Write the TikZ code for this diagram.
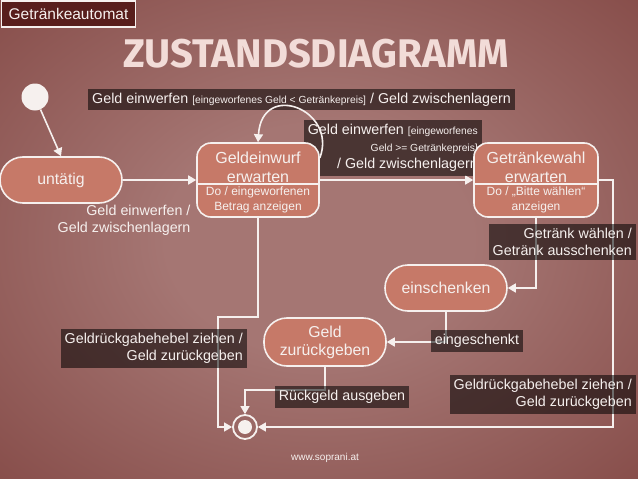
\documentclass[tikz,border=0pt]{standalone}
\usepackage{fontspec}
\setmainfont{Liberation Sans}
\newfontfamily\titlefont{Fira Sans}
\usepackage{tikz}
\usetikzlibrary{arrows.meta,calc,positioning}
\definecolor{bgin}{RGB}{165,118,115}
\definecolor{bgout}{RGB}{90,16,12}
\definecolor{statefill}{RGB}{198,121,104}
\definecolor{fg}{RGB}{246,240,238}
\definecolor{titlecol}{RGB}{242,220,216}
\definecolor{tagfill}{RGB}{88,30,28}
\pgfdeclareradialshading{backdrop}{\pgfpoint{0bp}{0bp}}{color(0bp)=(bgin); color(12bp)=(bgin); color(72bp)=(bgout)}
\pgfdeclarelayer{bg}
\pgfdeclarelayer{lines}
\pgfdeclarelayer{labels}
\pgfsetlayers{bg,lines,labels,main}
\newcommand{\guard}[1]{{\fontsize{10.3}{12}\selectfont #1}}
\tikzset{
  every node/.style={text=fg},
  state/.style={draw=fg,line width=1.6pt,fill=statefill,align=center,
    font=\fontsize{15.8}{18}\selectfont},
  round state/.style={state,rounded corners=23pt,minimum width=122pt,minimum height=46pt},
  box state/.style={state,rounded corners=14pt,minimum width=122pt,minimum height=74pt},
  name text/.style={align=center,font=\fontsize{16}{19}\selectfont},
  divider/.style={draw=fg,line width=1.6pt},
  do text/.style={align=center,font=\fontsize{12}{15}\selectfont},
  conn/.style={draw=fg,line width=1.6pt,-{Triangle[width=9pt,length=8pt]}},
  trans/.style={fill=black,fill opacity=0.55,text opacity=1,align=right,inner sep=4pt,
    font=\fontsize{14.3}{17}\selectfont}
}

\begin{document}
\begin{tikzpicture}[x=1pt,y=-1pt]
  \useasboundingbox (0,0) rectangle (638,479);
  \begin{pgfonlayer}{bg}
    \shade[shading=backdrop] (0,0) rectangle (638,479);
  \end{pgfonlayer}
  % header
  \node[draw=fg,line width=1.6pt,fill=tagfill,minimum width=134pt,minimum height=26pt,
    font=\fontsize{15.5}{17}\selectfont] (tag) at (68.5,14) {Getränkeautomat};
  \node[text=titlecol,font=\titlefont\bfseries\fontsize{40}{42}\selectfont] (title) at (316,54) {ZUSTANDSDIAGRAMM};
  % states
  \node[circle,fill=fg,minimum size=27pt,inner sep=0pt] (start) at (35,97) {};
  \node[round state] (idle) at (61,180) {untätig};
  \node[box state] (gwe) at (258,180) {};
  \node[name text] (gweName) at ([yshift=13pt]gwe.center) {Geldeinwurf\\erwarten};
  \node[do text] (gweDo) at ([yshift=-20pt]gwe.center) {Do / eingeworfenen\\Betrag anzeigen};
  \draw[divider] ([yshift=-4pt]gwe.west) -- ([yshift=-4pt]gwe.east);
  \node[box state,minimum width=124pt] (gwa) at (536,180) {};
  \node[name text] (gwaName) at ([yshift=13pt]gwa.center) {Getränkewahl\\erwarten};
  \node[do text] (gwaDo) at ([yshift=-20pt]gwa.center) {Do / „Bitte wählen“\\anzeigen};
  \draw[divider] ([yshift=-4pt]gwa.west) -- ([yshift=-4pt]gwa.east);
  \node[round state] (pour) at (446,288) {einschenken};
  \node[round state,minimum height=48pt] (back) at (325,342) {Geld\\zurückgeben};
  \node[circle,draw=fg,line width=1.8pt,minimum size=24pt,inner sep=0pt] (end) at (245,427) {};
  \node[circle,fill=fg,minimum size=14pt,inner sep=0pt] (endDot) at (end) {};
  % transitions
  \begin{pgfonlayer}{lines}
    \draw[conn] (start) -- (idle.north);
    \draw[conn] (idle) -- (gwe);
    \draw[conn] (gwe) -- (gwa);
    \draw[conn] (gwa.east) -- ++(14,0) |- (end.east);
    \draw[conn] (gwa.south) |- (pour.east);
    \draw[conn] (pour.south) |- (back.east);
    \draw[conn] (back.south) -- ++(0,23) -| (end.north);
    \coordinate (leftBend) at (218,317);
    \draw[conn] (gwe.south) |- (leftBend) |- (end.west);
  \end{pgfonlayer}
  % labels
  \node[align=right,font=\fontsize{14.3}{17}\selectfont,anchor=north east] (idleLbl) at (194,202) {Geld einwerfen /\\Geld zwischenlagern};
  \begin{pgfonlayer}{labels}
    \node[trans,anchor=west] (loopLbl) at (88,99.5) {Geld einwerfen \guard{[eingeworfenes Geld < Getränkepreis]} / Geld zwischenlagern};
    \node[trans,anchor=north east] (payLbl) at (482,120) {Geld einwerfen \guard{[eingeworfenes}\\\guard{Geld >= Getränkepreis]}\\/ Geld zwischenlagern};
    \node[trans,anchor=north east] (chooseLbl) at (636,224) {Getränk wählen /\\Getränk ausschenken};
    \node[trans] (pouredLbl) at (477,341) {eingeschenkt};
    \node[trans] (changeLbl) at (342,397) {Rückgeld ausgeben};
    \node[trans,anchor=north east] (leverR) at (636,375) {Geldrückgabehebel ziehen /\\Geld zurückgeben};
    \node[trans,anchor=north east] (leverL) at (247,329) {Geldrückgabehebel ziehen /\\Geld zurückgeben};
  \end{pgfonlayer}
  % self loop
  \draw[conn] ([yshift=22pt]gwe.east) .. controls (338,110) and (262,80) .. (gwe.north);
  \node[font=\fontsize{10}{12}\selectfont] (web) at (325,458) {www.soprani.at};
\end{tikzpicture}
\end{document}
